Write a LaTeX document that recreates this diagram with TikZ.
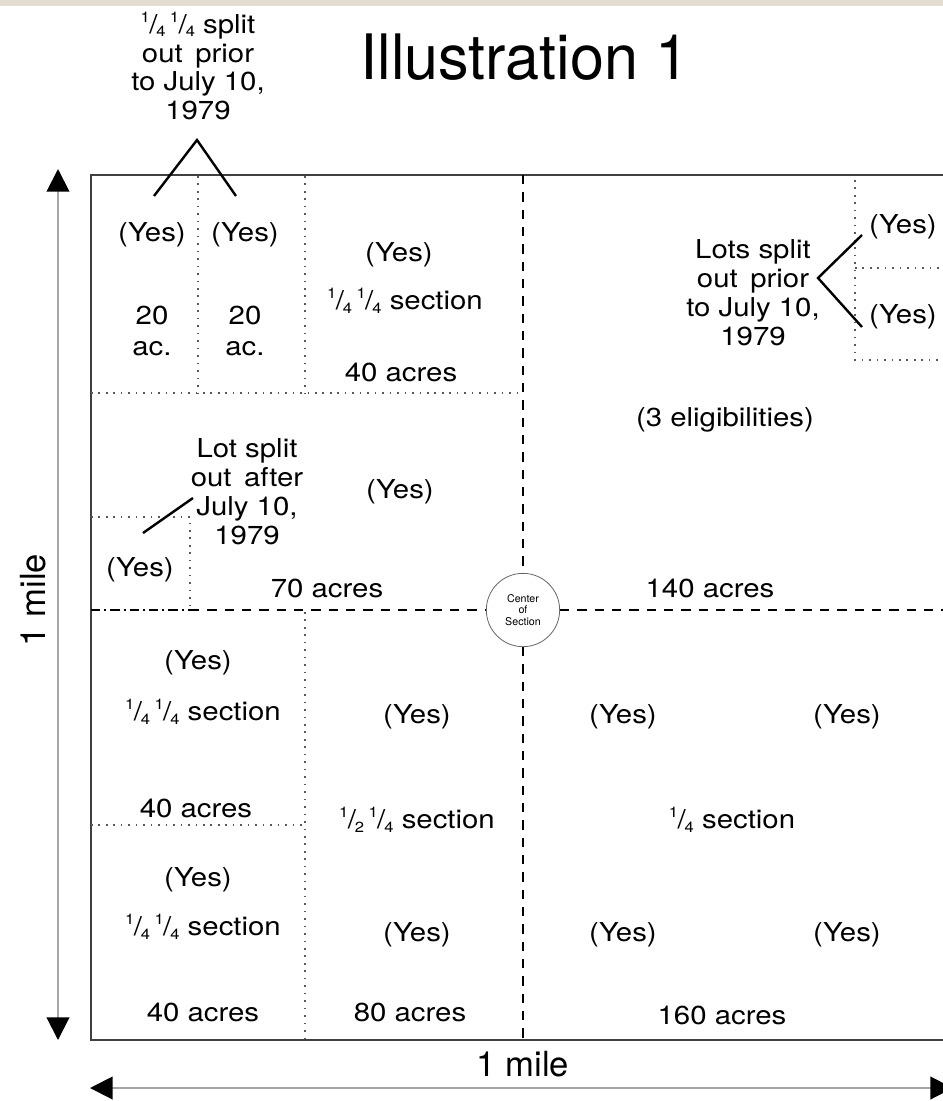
\documentclass[tikz,border=0pt]{standalone}
\usepackage{fontspec}
\setmainfont{TeX Gyre Heros}
\newfontfamily\titlefont[FakeStretch=0.975]{TeX Gyre Heros}
\newfontfamily\bodyfont[FakeStretch=1.13]{TeX Gyre Heros}
\usetikzlibrary{arrows.meta}
\definecolor{beige}{HTML}{E3DDD1}
\newcommand\fq[2]{\raisebox{0.42em}{\fontsize{11}{11}\selectfont #1}\kern-0.02em/\kern-0.04em\raisebox{-0.14em}{\fontsize{11}{11}\selectfont #2}}
\begin{document}
\begin{tikzpicture}[x=0.75pt,y=-0.75pt,
  lbl/.style={font=\bodyfont\fontsize{19.5}{21.7}\selectfont, align=center, inner sep=0pt, text=black},
  dotl/.style={draw=black!65, line width=1.2pt, dash pattern=on 1.2pt off 4.4pt},
  dashl/.style={draw=black, line width=1.1pt, dash pattern=on 7pt off 6pt},
  dashdot/.style={draw=black, line width=1.1pt, dash pattern=on 7pt off 3pt on 1.5pt off 3pt},
  ptr/.style={draw=black, line width=1.8pt},
  dimline/.style={draw=black!35, line width=1.5pt, {Triangle[length=17pt,width=17pt,color=black]}-{Triangle[length=17pt,width=17pt,color=black]}},
  frameline/.style={draw=black!75, line width=1.8pt}]
\useasboundingbox (0,0) rectangle (943,1101);
\clip (0,0) rectangle (943,1101);
\fill[beige] (0,0) rectangle (943,6);

% title
\node[font=\titlefont\fontsize{47}{50}\selectfont, inner sep=0pt] (title) at (525,57) {Illustration 1};

% frame
\draw[frameline] (970,175) -- (91,175) -- (91,1040) -- (970,1040);

% centre of section
\node[circle, draw=black!60, line width=0.6pt, fill=white, minimum size=55pt, inner sep=0pt,
      font=\fontsize{8}{8.5}\selectfont, align=center] (csec) at (523,610) {Center\\of\\Section};

% quarter lines
\coordinate (vtop) at (523,175);
\coordinate (vbot) at (523,1040);
\coordinate (hleft) at (91,610);
\coordinate (hlot) at (190,610);
\coordinate (hright) at (960,610);
\draw[dashl] (vtop) -- (csec.north);
\draw[dashl] (csec.south) -- (vbot);
\draw[dashdot] (hleft) -- (hlot);
\draw[dashl] (hlot) -- (csec.west);
\draw[dashl] (csec.east) -- (hright);

% dotted subdivisions
\draw[dotl] (91,393) -- (523,393);
\draw[dotl] (198,176) -- (198,393);
\draw[dotl] (305,176) -- (305,393);
\draw[dotl] (305,612) -- (305,1040);
\draw[dotl] (91,825) -- (305,825);
\draw[dotl] (91,517) -- (190,517) -- (190,610);
\draw[dotl] (855,180) -- (855,360) -- (950,360);
\draw[dotl] (855,268) -- (950,268);

% NW quarter, top row
\node[lbl] (y1) at (152,235) {(Yes)};
\node[lbl] (y2) at (245,235) {(Yes)};
\node[lbl] (a1) at (152,331) {20\\[1pt]ac.};
\node[lbl] (a2) at (245,331) {20\\[1pt]ac.};
\node[lbl] (y3) at (399,255) {(Yes)};
\node[lbl] (s3) at (405,301) {\fq14\,\fq14 section};
\node[lbl] (a3) at (401,372) {40 acres};

% top-left note
\node[lbl] (noteA) at (198,66) {\fq14\,\fq14 split\\out\, prior\\to July 10,\\1979};
\coordinate (apex) at (197,140);
\coordinate (y1tip) at (154,196);
\coordinate (y2tip) at (236,196);
\draw[ptr] (y1tip) -- (apex) -- (y2tip);

% NW quarter, lower part
\node[lbl] (noteB) at (247,492) {Lot split\\out\, after\\July 10,\\1979};
\coordinate (bfrom) at (143,533);
\coordinate (bto) at (193,498);
\draw[ptr] (bfrom) -- (bto);
\node[lbl] (y4) at (140,570) {(Yes)};
\node[lbl] (y5) at (400,492) {(Yes)};
\node[lbl] (a5) at (327,588) {70 acres};

% NE quarter
\node[lbl] (noteC) at (753,293) {Lots split\\out\, prior\\to July 10,\\1979};
\node[lbl] (y6) at (903,227) {(Yes)};
\node[lbl] (y7) at (903,317) {(Yes)};
\coordinate (capex) at (818,278);
\coordinate (y6tip) at (862,235);
\coordinate (y7tip) at (862,327);
\draw[ptr] (y6tip) -- (capex) -- (y7tip);
\node[lbl] (elig) at (725,420) {(3 eligibilities)};
\node[lbl] (a6) at (710,588) {140 acres};

% SW quarter
\node[lbl] (y8) at (198,663) {(Yes)};
\node[lbl] (s8) at (203,712) {\fq14\,\fq14 section};
\node[lbl] (a8) at (196,808) {40 acres};
\node[lbl] (y9) at (198,880) {(Yes)};
\node[lbl] (s9) at (203,927) {\fq14\,\fq14 section};
\node[lbl] (a9) at (203,1012) {40 acres};
\node[lbl] (y10) at (417,717) {(Yes)};
\node[lbl] (s10) at (417,820) {\fq12\,\fq14 section};
\node[lbl] (y11) at (417,935) {(Yes)};
\node[lbl] (a11) at (410,1012) {80 acres};

% SE quarter
\node[lbl] (y12) at (623,717) {(Yes)};
\node[lbl] (y13) at (847,717) {(Yes)};
\node[lbl] (s12) at (732,820) {\fq14 section};
\node[lbl] (y14) at (623,935) {(Yes)};
\node[lbl] (y15) at (847,935) {(Yes)};
\node[lbl] (a12) at (722,1015) {160 acres};

% dimensions
\coordinate (dvt) at (58,169);
\coordinate (dvb) at (58,1040);
\draw[dimline] (dvt) -- (dvb);
\node[lbl, font=\fontsize{26}{28}\selectfont, rotate=90] (mileL) at (33,600) {1 mile};
\coordinate (dhl) at (90,1088);
\coordinate (dhr) at (953,1088);
\draw[dimline] (dhl) -- (dhr);
\node[lbl, font=\fontsize{26}{28}\selectfont] (mileB) at (523,1064) {1 mile};
\end{tikzpicture}
\end{document}
